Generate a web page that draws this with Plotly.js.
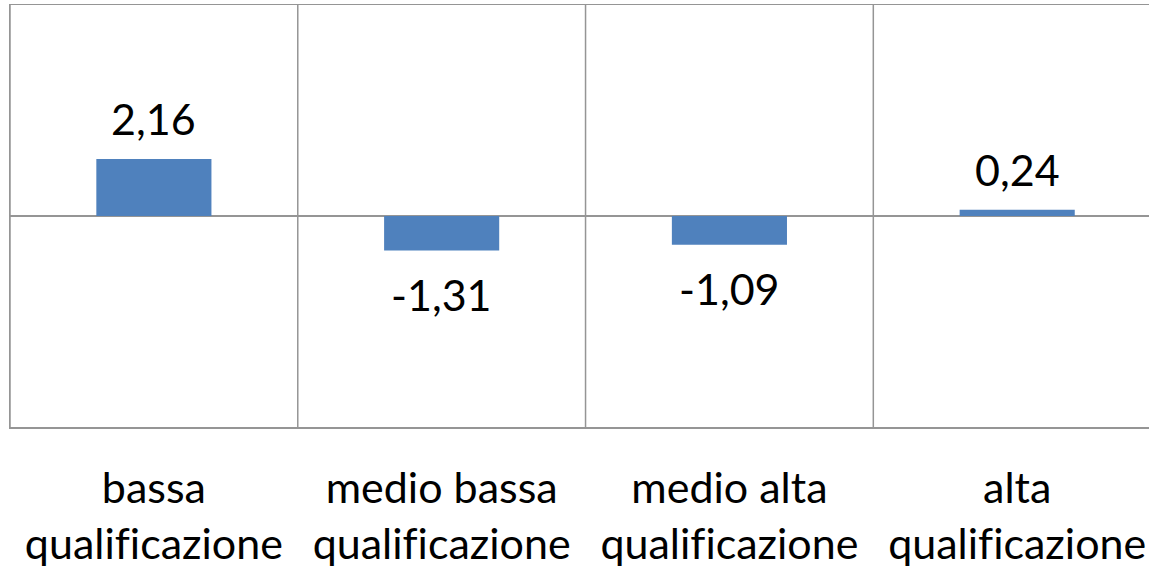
<!DOCTYPE html>
<html>
<head>
<meta charset="utf-8">
<script src="https://cdn.plot.ly/plotly-3.0.1.min.js"></script>
<style>html,body{margin:0;padding:0;background:#fff;}#chart{width:1149px;height:574px;}svg text{font-variant-ligatures:none;font-feature-settings:"liga" 0;}</style>
</head>
<body>
<div id="chart"></div>
<script>
const categories = ["bassa<br>qualificazione", "medio bassa<br>qualificazione", "medio alta<br>qualificazione", "alta<br>qualificazione"];
const values = [2.16, -1.31, -1.09, 0.24];
const positions = [0, 1, 2, 3];

const FONT = "Lato, 'Open Sans', sans-serif";
const GRID = "#959595";

const fmt = v => v.toFixed(2).replace(".", ",");

const annotations = values.map((v, i) => ({
  x: positions[i], y: v, xref: "x", yref: "y",
  text: fmt(v), showarrow: false,
  xanchor: "center",
  yanchor: v >= 0 ? "bottom" : "top",
  yshift: v >= 0 ? 13 : -16,
  font: {family: FONT, size: 43, color: "#000"}
}));

const shapes = positions.map(p => ({
  type: "line", xref: "x", yref: "paper",
  x0: p - 0.5, x1: p - 0.5, y0: 0, y1: 1,
  line: {color: GRID, width: 1.5}, layer: "below"
}));

const trace = {
  type: "bar",
  x: positions,
  y: values,
  width: 0.4,
  marker: {color: "#4f81bd", line: {width: 0}},
  hoverinfo: "none"
};

const layout = {
  width: 1149, height: 574,
  margin: {l: 10, r: 0, t: 5, b: 147},
  paper_bgcolor: "#fff", plot_bgcolor: "#fff",
  showlegend: false,
  font: {family: FONT, color: "#000"},
  xaxis: {
    range: [-0.5, 3.458],
    tickmode: "array", tickvals: positions, ticktext: categories,
    showgrid: false, zeroline: false,
    showline: true, mirror: true, linecolor: GRID, linewidth: 1.5,
    ticks: "", ticklabelstandoff: 23,
    tickfont: {family: FONT, size: 43, color: "#000"},
    fixedrange: true
  },
  yaxis: {
    range: [-8, 8],
    showgrid: false, showticklabels: false, ticks: "",
    zeroline: true, zerolinecolor: GRID, zerolinewidth: 1.5,
    showline: true, mirror: false, linecolor: GRID, linewidth: 1.5,
    fixedrange: true
  },
  shapes: shapes,
  annotations: annotations,
  bargap: 0.6
};

Plotly.newPlot("chart", [trace], layout, {displayModeBar: false, staticPlot: true});
</script>
</body>
</html>
